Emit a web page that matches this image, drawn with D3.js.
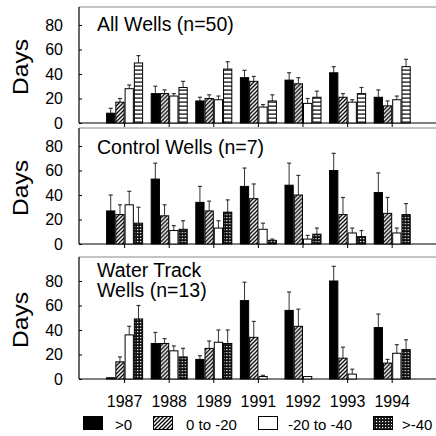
<!DOCTYPE html>
<html><head><meta charset="utf-8">
<script src="https://cdn.jsdelivr.net/npm/d3@7"></script>
<style>
body{margin:0;background:#fff}
svg{display:block}
text{font-family:"Liberation Sans",Arial,Helvetica,sans-serif;fill:#000}
</style>
</head><body>
<svg id="c" width="436" height="436"></svg>
<script>
// ---------- DATA ----------
const years = ["1987","1988","1989","1991","1992","1993","1994"];
const seriesNames = [">0","0 to -20","-20 to -40",">-40"];
const yTicks = [0,20,40,60,80];

// All Wells (n=50): means and upper error-bar ends
const allPos      = [8,24,18,37,35,41,21];
const allPosErr   = [12,30,21,43,41,46,27];
const all0to20    = [17,24,20,34,32,21,14];
const all0to20Err = [20,27,23,38,37,24,18];
const all20to40   = [28,22,19,13,16,17,19];
const all20to40Err= [31,24,22,15,20,19,22];
const allGt40     = [49,29,44,18,21,24,46];
const allGt40Err  = [55,34,50,23,26,29,52];

// Control Wells (n=7)
const ctlPos      = [27,53,34,47,48,60,42];
const ctlPosErr   = [40,66,47,62,66,74,58];
const ctl0to20    = [24,23,27,37,40,24,25];
const ctl0to20Err = [32,32,35,49,56,38,38];
const ctl20to40   = [32,11,13,12,4,9,9];
const ctl20to40Err= [43,15,19,17,7,13,13];
const ctlGt40     = [17,12,26,3,8,6,24];
const ctlGt40Err  = [30,19,36,4,13,11,33];

// Water Track Wells (n=13)
const wtPos      = [1,29,16,64,56,80,42];
const wtPosErr   = [1,38,19,79,71,92,53];
const wt0to20    = [14,29,25,34,43,17,13];
const wt0to20Err = [18,33,31,47,57,26,16];
const wt20to40   = [36,23,30,2,2,4,21];
const wt20to40Err= [43,27,40,3,2,8,28];
const wtGt40     = [49,18,29,0,0,0,24];
const wtGt40Err  = [60,25,40,0,0,0,32];

const panels = [
  {title:["All Wells (n=50)"], top:7, base:123, titleY:31, lastFill:"url(#hstripe)",
   vals:[allPos,all0to20,all20to40,allGt40], errs:[allPosErr,all0to20Err,all20to40Err,allGt40Err]},
  {title:["Control Wells (n=7)"], top:128, base:244, titleY:154, lastFill:"url(#checker)",
   vals:[ctlPos,ctl0to20,ctl20to40,ctlGt40], errs:[ctlPosErr,ctl0to20Err,ctl20to40Err,ctlGt40Err]},
  {title:["Water Track","Wells (n=13)"], top:257, base:379, titleY:277, lastFill:"url(#checker)",
   vals:[wtPos,wt0to20,wt20to40,wtGt40], errs:[wtPosErr,wt0to20Err,wt20to40Err,wtGt40Err]}
];

// ---------- DRAW ----------
const svg = d3.select("#c");
const defs = svg.append("defs");
const hatch = defs.append("pattern").attr("id","hatch").attr("patternUnits","userSpaceOnUse")
  .attr("width",4).attr("height",4);
hatch.append("rect").attr("width",4).attr("height",4).attr("fill","#fff");
hatch.append("path").attr("d","M-1,1 L1,-1 M0,4 L4,0 M3,5 L5,3").attr("stroke","#000").attr("stroke-width",1.3);

const hs = defs.append("pattern").attr("id","hstripe").attr("patternUnits","userSpaceOnUse")
  .attr("width",4).attr("height",4);
hs.append("rect").attr("width",4).attr("height",4).attr("fill","#fff");
hs.append("rect").attr("x",0).attr("y",1.5).attr("width",4).attr("height",1.2).attr("fill","#000");

const ck = defs.append("pattern").attr("id","checker").attr("patternUnits","userSpaceOnUse")
  .attr("width",3).attr("height",3);
ck.append("rect").attr("width",3).attr("height",3).attr("fill","#111");
ck.append("rect").attr("x",1).attr("y",1).attr("width",1.2).attr("height",1.2).attr("fill","#fff");

const x0 = d3.scaleBand().domain(years).range([102.3,414.5]).paddingInner(0.17).paddingOuter(0.085);
const x1 = d3.scaleBand().domain(d3.range(4)).range([0,x0.bandwidth()]);
const axisX = 79;

function fillFor(p,s){ return s===0?"#000": s===1?"url(#hatch)": s===2?"#fff": p.lastFill; }

panels.forEach((p,pi)=>{
  const y = d3.scaleLinear().domain([0,80]).range([p.base,p.base-98]);
  const g = svg.append("g");
  g.append("line").attr("x1",axisX).attr("x2",436).attr("y1",p.top).attr("y2",p.top)
    .attr("stroke","#888").attr("stroke-width",1);
  g.append("line").attr("x1",axisX).attr("x2",436).attr("y1",p.base).attr("y2",p.base)
    .attr("stroke","#000").attr("stroke-width",1.2);
  g.append("line").attr("x1",axisX).attr("x2",axisX).attr("y1",p.top).attr("y2",p.base)
    .attr("stroke","#000").attr("stroke-width",1.2);
  const ax = g.append("g").attr("transform",`translate(${axisX},0)`)
    .call(d3.axisLeft(y).tickValues(yTicks).tickSize(-3).tickPadding(16).tickFormat(d3.format("d")));
  ax.select(".domain").remove();
  ax.selectAll("line").attr("stroke","#000");
  ax.selectAll("text").attr("font-size",16).attr("font-family","Liberation Sans, Arial, sans-serif");
  g.selectAll(".xt").data(years).join("line")
    .attr("x1",d=>x0(d)+x0.bandwidth()/2).attr("x2",d=>x0(d)+x0.bandwidth()/2)
    .attr("y1",p.base).attr("y2",p.base+4).attr("stroke","#000");
  years.forEach((yr,i)=>{
    const gg = g.append("g").attr("transform",`translate(${x0(yr)},0)`);
    for(let s=0;s<4;s++){
      const v = p.vals[s][i], e = p.errs[s][i];
      const bx = x1(s), bw = x1.bandwidth();
      if(e>v){
        const cx = bx+bw/2;
        gg.append("line").attr("x1",cx).attr("x2",cx).attr("y1",y(v)).attr("y2",y(e))
          .attr("stroke","#333").attr("stroke-width",1);
        gg.append("line").attr("x1",cx-2).attr("x2",cx+2).attr("y1",y(e)).attr("y2",y(e))
          .attr("stroke","#333").attr("stroke-width",1.2);
      }
      if(v>0){
        gg.append("rect").attr("x",bx+0.5).attr("y",y(v)).attr("width",bw-1).attr("height",y(0)-y(v))
          .attr("fill",fillFor(p,s)).attr("stroke","#000").attr("stroke-width",1);
      }
    }
  });
  p.title.forEach((t,k)=>{
    g.append("text").attr("x",97).attr("y",p.titleY+k*20).attr("font-size",19.5).text(t);
  });
  const cy = (p.top+p.base)/2 + 2;
  g.append("text").attr("transform",`translate(28,${cy}) rotate(-90) scale(1.12,1)`)
    .attr("text-anchor","middle").attr("font-size",22).text("Days");
});

// x labels (bottom)
const xl = svg.append("g").attr("transform","translate(0,379)")
  .call(d3.axisBottom(x0).tickSize(0).tickPadding(17));
xl.select(".domain").remove();
xl.selectAll("text").attr("font-size",16).attr("font-family","Liberation Sans, Arial, sans-serif");

// legend
const legX = [83,153,258,373];
const legTX = [115,186,288,402];
const legFills = ["#000","url(#hatch)","#fff","url(#checker)"];
const lg = svg.append("g");
seriesNames.forEach((n,i)=>{
  lg.append("rect").attr("x",legX[i]+0.5).attr("y",416.5).attr("width",19).attr("height",13)
    .attr("fill",legFills[i]).attr("stroke","#000");
  lg.append("text").attr("x",legTX[i]).attr("y",430).attr("font-size",15).text(n);
});
</script>
</body></html>
